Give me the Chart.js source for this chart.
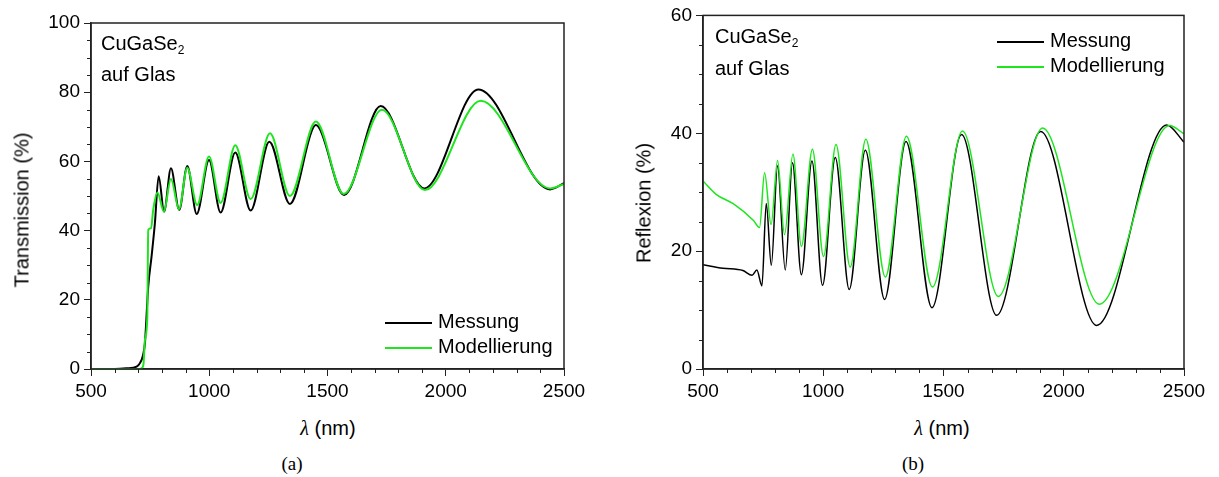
<!DOCTYPE html>
<html lang="de">
<head>
<meta charset="UTF-8">
<title>CuGaSe2 auf Glas - Transmission und Reflexion</title>
<script src="https://cdn.jsdelivr.net/npm/chart.js@4.4.1/dist/chart.umd.min.js"></script>
<style>
    body { margin: 0; background: #fff; }
    #page { position: relative; width: 1219px; height: 477px; font-family: "Liberation Sans", Arial, sans-serif; color: #000; }
    canvas { position: absolute; top: 0; }
    .txt { position: absolute; white-space: nowrap; font-size: 20px; line-height: 23px; }
    .ctr { position: absolute; white-space: nowrap; font-size: 20px; transform: translate(-50%, -50%); }
    .rot { transform: translate(-50%, -50%) rotate(-90deg); }
    .cap { font-family: "Liberation Serif", "DejaVu Serif", serif; font-size: 19px; }
    .lam { font-family: "Liberation Serif", serif; font-style: italic; }
    .leg { position: absolute; white-space: nowrap; font-size: 20px; line-height: 23px; }
    .leg span.ln { display: inline-block; width: 47px; vertical-align: middle; margin-right: 6px; }
    sub { font-size: 12px; vertical-align: -4px; line-height: 0; }
</style>
</head>
<body>
<div id="page">
    <canvas id="transChart" width="600" height="400" style="left:0"></canvas>
    <canvas id="reflChart" width="609" height="400" style="left:610px"></canvas>

    <!-- linke Grafik -->
    <div class="txt" style="left:101px; top:32px">CuGaSe<sub>2</sub></div>
    <div class="txt" style="left:101px; top:63px">auf Glas</div>
    <div class="ctr rot" style="left:22px; top:210px">Transmission (%)</div>
    <div class="ctr" style="left:328px; top:428px"><span class="lam">λ</span> (nm)</div>
    <div class="ctr cap" style="left:292px; top:464px">(a)</div>
    <div class="leg" style="left:385px; top:310px"><span class="ln" style="height:2px; background:#000"></span>Messung</div>
    <div class="leg" style="left:385px; top:335px"><span class="ln" style="height:2px; background:rgb(30,230,30)"></span>Modellierung</div>

    <!-- rechte Grafik -->
    <div class="txt" style="left:715px; top:25px">CuGaSe<sub>2</sub></div>
    <div class="txt" style="left:715px; top:57px">auf Glas</div>
    <div class="ctr rot" style="left:644px; top:203px">Reflexion (%)</div>
    <div class="ctr" style="left:942px; top:428px"><span class="lam">λ</span> (nm)</div>
    <div class="ctr cap" style="left:913px; top:464px">(b)</div>
    <div class="leg" style="left:997px; top:29px"><span class="ln" style="height:2px; background:#000"></span>Messung</div>
    <div class="leg" style="left:997px; top:54px"><span class="ln" style="height:2px; background:rgb(30,230,30)"></span>Modellierung</div>
</div>

<script>
// Transmission, Messung
var transMeasWl = [500, 600, 650, 693, 707, 720, 728, 742, 756, 770, 786, 809, 838, 873, 907, 947, 999, 1048, 1110, 1175, 1254, 1341, 1451, 1570, 1725, 1909, 2138, 2441, 2500];
var transMeas   = [0, 0, 0.2, 0.7, 1.7, 4, 7.5, 23.8, 32.5, 42, 55.7, 45.5, 58, 46, 58.7, 44.8, 60.4, 45.2, 62.6, 45.8, 65.7, 47.7, 70.5, 50.3, 76, 52.2, 80.8, 51.9, 53.7];
// Transmission, Modellierung
var transModWl = [500, 700, 715, 722, 728, 738, 742, 754, 763, 781, 808, 838, 872, 907, 949, 999, 1048, 1110, 1175, 1257, 1341, 1451, 1568, 1730, 1912, 2148, 2441, 2500];
var transMod   = [0, 0, 0.3, 1.5, 8.4, 15, 40.2, 40.7, 46, 51, 45.5, 54.9, 46.2, 58.2, 47.4, 61.4, 48, 64.7, 49.1, 68.1, 50, 71.5, 50.6, 74.9, 51.7, 77.5, 52.2, 53.5];

// Reflexion, Messung
var reflMeasWl = [500, 583, 666, 704, 724, 745, 763, 784, 810, 842, 872, 909, 953, 997, 1050, 1108, 1175, 1255, 1344, 1452, 1575, 1721, 1904, 2137, 2428, 2500];
var reflMeas   = [17.7, 17.1, 16.7, 15.9, 16.8, 14.1, 28.1, 17.6, 34.5, 16.8, 35.0, 16.0, 35.3, 14.2, 35.9, 13.5, 37.1, 11.8, 38.6, 10.4, 39.8, 9.1, 40.3, 7.4, 41.4, 38.5];
// Reflexion, Modellierung
var reflModWl = [500, 556, 627, 710, 735, 756, 783, 810, 839, 874, 909, 955, 1001, 1053, 1112, 1177, 1258, 1346, 1454, 1579, 1728, 1912, 2148, 2440, 2500];
var reflMod   = [31.9, 29.6, 28.0, 25.2, 24.0, 33.3, 24.5, 35.4, 22.8, 36.5, 20.8, 37.3, 19.1, 38.1, 17.3, 39.0, 15.6, 39.5, 13.9, 40.4, 12.3, 40.9, 11.0, 41.3, 39.9];

var xTicks = [500, 1000, 1500, 2000, 2500];
var transTicks = [0, 20, 40, 60, 80, 100];
var reflTicks = [0, 20, 40, 60];

var green = 'rgb(30,230,30)';
var axisColor = '#222';

function pts(xs, ys) {
    return xs.map(function (x, i) { return { x: x, y: ys[i] }; });
}

// kleine Zwischenstriche und Rahmen
var frame = {
    id: 'frame',
    afterDraw: function (chart) {
        var c = chart.ctx, a = chart.chartArea;
        var xs = chart.scales.x, ys = chart.scales.y;
        c.save();
        c.strokeStyle = axisColor;
        c.lineWidth = 1.5;
        c.strokeRect(a.left, a.top, a.right - a.left, a.bottom - a.top);
        c.lineWidth = 1;
        c.beginPath();
        for (var v = xs.min; v <= xs.max; v += 100) {
            if (v % 500 === 0) continue;
            var px = Math.round(xs.getPixelForValue(v)) + 0.5;
            c.moveTo(px, a.bottom);
            c.lineTo(px, a.bottom + 4);
        }
        for (var w = ys.min; w <= ys.max; w += 5) {
            if (w % 20 === 0) continue;
            var py = Math.round(ys.getPixelForValue(w)) + 0.5;
            c.moveTo(a.left, py);
            c.lineTo(a.left - 4, py);
        }
        c.stroke();
        c.restore();
    }
};

function makeChart(id, meas, mod, yMax, yTickList, lw, pad, yWidth) {
    var ctx = document.getElementById(id).getContext('2d');
    return new Chart(ctx, {
        type: 'line',
        data: {
            datasets: [
                { label: 'Modellierung', data: mod, borderColor: green, borderWidth: lw, pointRadius: 0, fill: false, cubicInterpolationMode: 'monotone' },
                { label: 'Messung', data: meas, borderColor: '#000', borderWidth: lw, pointRadius: 0, fill: false, cubicInterpolationMode: 'monotone' }
            ]
        },
        options: {
            responsive: false,
            animation: false,
            devicePixelRatio: 1,
            layout: { padding: pad },
            plugins: { legend: { display: false }, tooltip: { enabled: false } },
            scales: {
                x: {
                    type: 'linear',
                    min: 500, max: 2500,
                    afterBuildTicks: function (s) { s.ticks = xTicks.map(function (v) { return { value: v }; }); },
                    afterFit: function (s) { s.height = 31; },
                    grid: { drawOnChartArea: false, drawTicks: true, tickLength: 7, color: axisColor, lineWidth: 1 },
                    border: { display: true, color: axisColor, width: 1.5 },
                    ticks: { color: '#000', padding: 4, maxRotation: 0, font: { family: 'Liberation Sans', size: 19 },
                        callback: function (v) { return String(v); } }
                },
                y: {
                    type: 'linear',
                    min: 0, max: yMax,
                    afterBuildTicks: function (s) { s.ticks = yTickList.map(function (v) { return { value: v }; }); },
                    afterFit: function (s) { s.width = yWidth; },
                    grid: { drawOnChartArea: false, drawTicks: true, tickLength: 7, color: axisColor, lineWidth: 1 },
                    border: { display: true, color: axisColor, width: 1.5 },
                    ticks: { color: '#000', padding: 4, font: { family: 'Liberation Sans', size: 19 },
                        callback: function (v) { return String(v); } }
                }
            }
        },
        plugins: [frame]
    });
}

var transChart = makeChart('transChart', pts(transMeasWl, transMeas), pts(transModWl, transMod), 100, transTicks, 2,
    { top: 23, right: 36, left: 0, bottom: 0 }, 91);
var reflChart = makeChart('reflChart', pts(reflMeasWl, reflMeas), pts(reflModWl, reflMod), 60, reflTicks, 1.5,
    { top: 14, right: 35, left: 0, bottom: 0 }, 93);
</script>
</body>
</html>
